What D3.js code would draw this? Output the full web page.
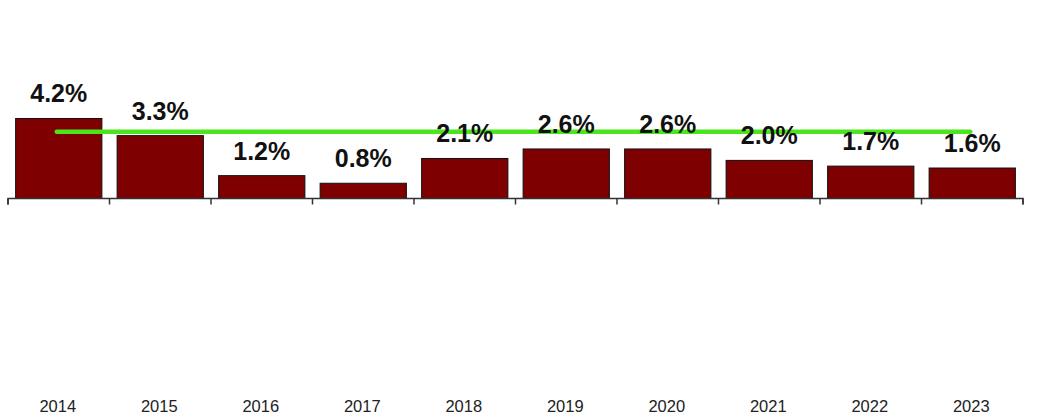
<!DOCTYPE html>
<html>
<head>
<meta charset="utf-8">
<script src="https://cdn.jsdelivr.net/npm/d3@7"></script>
<style>
html,body{margin:0;padding:0;background:#fff;}
svg{display:block;}
</style>
</head>
<body>
<svg id="chart" width="1057" height="419"></svg>
<script>
const years = ["2014","2015","2016","2017","2018","2019","2020","2021","2022","2023"];
const rates = [4.2, 3.3, 1.2, 0.8, 2.1, 2.6, 2.6, 2.0, 1.7, 1.6];
const rateLabels = ["4.2%","3.3%","1.2%","0.8%","2.1%","2.6%","2.6%","2.0%","1.7%","1.6%"];
const targetLine = [3.5, 3.5, 3.5, 3.5, 3.5, 3.5, 3.5, 3.5, 3.5, 3.5];

const svg = d3.select("#chart");
const baseY = 198.5;
const pxPerUnit = 19.05;

const x = d3.scaleBand().domain(years).range([8, 1023]).paddingInner(0.15).paddingOuter(0.075);
const y = d3.scaleLinear().domain([0, 10]).range([baseY, baseY - 10 * pxPerUnit]);

// bars
svg.append("g").selectAll("rect").data(years).join("rect")
  .attr("x", d => x(d))
  .attr("y", (d, i) => y(rates[i]))
  .attr("width", x.bandwidth())
  .attr("height", (d, i) => y(0) - y(rates[i]))
  .attr("fill", "#7f0000")
  .attr("stroke", "#111")
  .attr("stroke-width", 1);

// axis
const axis = d3.axisBottom(x).tickSize(6).tickFormat("");
const axG = svg.append("g").attr("transform", `translate(0,${baseY})`).call(axis);
axG.select(".domain").attr("stroke", "#333").attr("stroke-width", 1.5)
  .attr("d", `M8,6V0H1023V6`);
// ticks at band boundaries
axG.selectAll(".tick").remove();
const bounds = years.map(d => x(d) - x.step() * x.paddingInner() / 2);
bounds.push(x(years[years.length - 1]) + x.bandwidth() + x.step() * x.paddingInner() / 2);
axG.selectAll("line.b").data(bounds).join("line").attr("class", "b")
  .attr("x1", d => d).attr("x2", d => d).attr("y1", 0).attr("y2", 6)
  .attr("stroke", "#333").attr("stroke-width", 1.5);

// green line
const line = d3.line()
  .x((d, i) => x(years[i]) + x.bandwidth() / 2 - 2)
  .y(d => y(d));
svg.append("path").datum(targetLine)
  .attr("d", line)
  .attr("fill", "none")
  .attr("stroke", "#4be51c")
  .attr("stroke-width", 4.5)
  .attr("stroke-linecap", "round");

// value labels
svg.append("g").selectAll("text").data(years).join("text")
  .attr("x", d => x(d) + x.bandwidth() / 2)
  .attr("y", (d, i) => y(rates[i]) - 16)
  .attr("text-anchor", "middle")
  .attr("font-family", "Liberation Sans, Arial, sans-serif")
  .attr("font-weight", "bold")
  .attr("font-size", 25)
  .attr("fill", "#111")
  .text((d, i) => rateLabels[i]);

// year labels
svg.append("g").selectAll("text").data(years).join("text")
  .attr("x", d => x(d) + x.bandwidth() / 2 - 1)
  .attr("y", 411.5)
  .attr("text-anchor", "middle")
  .attr("font-family", "Liberation Sans, Arial, sans-serif")
  .attr("font-size", 16.5)
  .attr("fill", "#222")
  .text(d => d);
</script>
</body>
</html>
